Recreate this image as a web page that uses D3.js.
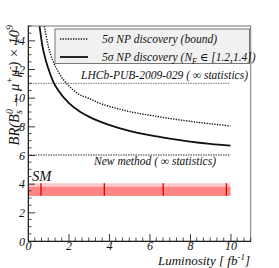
<!DOCTYPE html>
<html><head><meta charset="utf-8">
<script src="https://cdn.jsdelivr.net/npm/d3@7"></script>
<style>
body{margin:0;background:#fff;}
svg text{font-family:"Liberation Serif","DejaVu Serif",serif;font-style:italic;fill:#111;}
</style></head>
<body><svg id="c" width="279" height="268"></svg>
<script>
// ---- data ----
const boundLumi   = [0.8, 0.9, 1.0, 1.25, 1.5, 1.75, 2.0, 2.5, 3.0, 3.5, 4.0, 4.5, 5.0, 6.0, 7.0, 8.0, 9.0, 10.0];
const boundBR     = [15.0, 14.3, 13.6, 12.5, 11.8, 11.25, 10.85, 10.25, 9.95, 9.63, 9.4, 9.21, 9.03, 8.78, 8.55, 8.35, 8.18, 8.03];
const nfLumi      = [0.57, 0.7, 0.85, 1.0, 1.25, 1.5, 2.0, 2.5, 3.0, 3.5, 4.0, 4.5, 5.0, 6.0, 7.0, 8.0, 9.0, 10.0];
const nfBR        = [15.0, 13.7, 12.75, 12.05, 11.1, 10.5, 9.65, 9.08, 8.68, 8.36, 8.1, 7.88, 7.69, 7.38, 7.14, 6.94, 6.78, 6.65];
const refLines    = [{label:"LHCb-PUB-2009-029 ( \u221e statistics)", value:11, from:0, to:10},
                     {label:"New method ( \u221e statistics)", value:6, from:0, to:10}];
const smBandOuter = [3.15, 4.03];
const smBandInner = [3.15, 3.78];
const smRange     = [0, 10];
const smMarks     = [0.64, 3.77, 6.68, 9.8];
const xTicks      = [0, 2, 4, 6, 8, 10];
const yTicks      = [0, 2, 4, 6, 8, 10, 12, 14];
const legendItems = ["5\u03c3 NP discovery (bound)", "5\u03c3 NP discovery (N_F \u2208 [1.2,1.4])"];

// ---- layout ----
const svg = d3.select("#c");
const L = 28, R = 250.7, T = 26, B = 241;
const x = d3.scaleLinear().domain([0, 11]).range([L, R]);
const y = d3.scaleLinear().domain([0, 15]).range([B, T]);

svg.append("defs").append("clipPath").attr("id","pc")
  .append("rect").attr("x",L).attr("y",T).attr("width",R-L).attr("height",B-T);

// SM band
const g = svg.append("g").attr("clip-path","url(#pc)");
g.append("rect").attr("x",x(smRange[0])).attr("width",x(smRange[1])-x(smRange[0]))
  .attr("y",y(smBandOuter[1])).attr("height",y(smBandOuter[0])-y(smBandOuter[1]))
  .attr("fill","#ffc8c8");
g.append("rect").attr("x",x(smRange[0])).attr("width",x(smRange[1])-x(smRange[0]))
  .attr("y",y(smBandInner[1])).attr("height",y(smBandInner[0])-y(smBandInner[1]))
  .attr("fill","#ff8585");
g.selectAll(".smm").data(smMarks).join("line")
  .attr("x1",d=>x(d)).attr("x2",d=>x(d))
  .attr("y1",y(smBandOuter[1])).attr("y2",y(smBandOuter[0]))
  .attr("stroke","#e00000").attr("stroke-width",1.3);

// reference lines
g.selectAll(".ref").data(refLines).join("line")
  .attr("x1",d=>x(d.from)).attr("x2",d=>x(d.to))
  .attr("y1",d=>y(d.value)).attr("y2",d=>y(d.value))
  .attr("stroke",(d,i)=>i===0?"#777":"#333").attr("stroke-width",1)
  .attr("stroke-dasharray","1.5,1");

// curves
const line = d3.line().curve(d3.curveMonotoneX);
g.append("path").attr("d", line(boundLumi.map((v,i)=>[x(v), y(boundBR[i])])))
  .attr("fill","none").attr("stroke","#111").attr("stroke-width",1.4).attr("stroke-dasharray","1.3,1.3");
g.append("path").attr("d", line(nfLumi.map((v,i)=>[x(v), y(nfBR[i])])))
  .attr("fill","none").attr("stroke","#111").attr("stroke-width",1.8);

// frame
svg.append("rect").attr("x",L).attr("y",T).attr("width",R-L).attr("height",B-T)
  .attr("fill","none").attr("stroke","#777").attr("stroke-width",1);

// minor ticks
const xMinor = d3.range(0, 11.001, 1/3).filter(v=>Math.abs(v/2-Math.round(v/2))>1e-6);
const yMinor = d3.range(0, 15.001, 0.5).filter(v=>Math.abs(v/2-Math.round(v/2))>1e-6);
svg.selectAll(".xm").data(xMinor).join("line")
  .attr("x1",d=>x(d)).attr("x2",d=>x(d)).attr("y1",B).attr("y2",B-3.5)
  .attr("stroke","#222").attr("stroke-width",0.8);
svg.selectAll(".ym").data(yMinor).join("line")
  .attr("y1",d=>y(d)).attr("y2",d=>y(d)).attr("x1",L).attr("x2",L+3.5)
  .attr("stroke","#222").attr("stroke-width",0.8);

// major ticks via d3 axes
const xa = svg.append("g").attr("transform",`translate(0,${B})`)
  .call(d3.axisBottom(x).tickValues(xTicks).tickSizeInner(-7).tickSizeOuter(0).tickPadding(6).tickFormat(d3.format("d")));
const ya = svg.append("g").attr("transform",`translate(${L},0)`)
  .call(d3.axisLeft(y).tickValues(yTicks).tickSizeInner(-7).tickSizeOuter(0).tickPadding(3).tickFormat(d3.format("d")));
[xa, ya].forEach(a=>{
  a.select(".domain").attr("stroke","#222");
  a.selectAll(".tick line").attr("stroke","#222").attr("stroke-width",0.9);
  a.selectAll("text").attr("font-family","Liberation Serif").attr("font-style","italic")
    .attr("font-size",12).attr("fill","#111");
});
xa.selectAll("text").attr("dy","0.25em");
ya.selectAll("text").attr("dy","0.35em");

// reference line labels
svg.append("text").attr("x",248).attr("y",79).attr("text-anchor","end")
  .attr("font-size",11.5).text(refLines[0].label);
svg.append("text").attr("x",216).attr("y",165).attr("text-anchor","end")
  .attr("font-size",11.5).text(refLines[1].label);
svg.append("text").attr("x",32).attr("y",180.5).attr("font-size",14.5).text("SM");

// legend
svg.append("rect").attr("x",55).attr("y",29).attr("width",194.5).attr("height",34.5)
  .attr("fill","#f1f1f1").attr("stroke","#777").attr("stroke-width",1);
svg.append("line").attr("x1",60).attr("x2",88).attr("y1",39).attr("y2",39)
  .attr("stroke","#111").attr("stroke-width",1.4).attr("stroke-dasharray","1.3,1.3");
svg.append("line").attr("x1",60).attr("x2",88).attr("y1",57).attr("y2",57)
  .attr("stroke","#111").attr("stroke-width",1.8);
svg.append("text").attr("x",102).attr("y",43).attr("font-size",11.5).text(legendItems[0]);
const t2 = svg.append("text").attr("x",102).attr("y",61).attr("font-size",11.5);
const parts = legendItems[1].split("N_F");
t2.append("tspan").text(parts[0] + "N");
t2.append("tspan").attr("dy",3).attr("font-size",8).text("F");
t2.append("tspan").attr("dy",-3).text(parts[1]);

// axis titles
const xt = svg.append("text").attr("x",250).attr("y",265).attr("text-anchor","end").attr("font-size",13);
xt.append("tspan").text("Luminosity [ fb");
xt.append("tspan").attr("dy",-5).attr("font-size",9).text("-1");
xt.append("tspan").attr("dy",5).text("]");

const yt = svg.append("text").attr("transform","translate(19,25) rotate(-90)")
  .attr("text-anchor","end").attr("font-size",14.5);
yt.append("tspan").text("BR(B");
yt.append("tspan").attr("dy",-6).attr("font-size",10).text("0");
yt.append("tspan").attr("dy",9).attr("dx",-5).attr("font-size",10).text("s");
yt.append("tspan").attr("dy",-3).attr("dx",1).text("\u2192 \u03bc");
yt.append("tspan").attr("dy",-6).attr("font-size",10).text("+");
yt.append("tspan").attr("dy",6).text("\u03bc");
yt.append("tspan").attr("dy",-6).attr("font-size",10).text("-");
yt.append("tspan").attr("dy",6).text(") \u00d7 10");
yt.append("tspan").attr("dy",-6).attr("font-size",10).text("9");
</script></body></html>
